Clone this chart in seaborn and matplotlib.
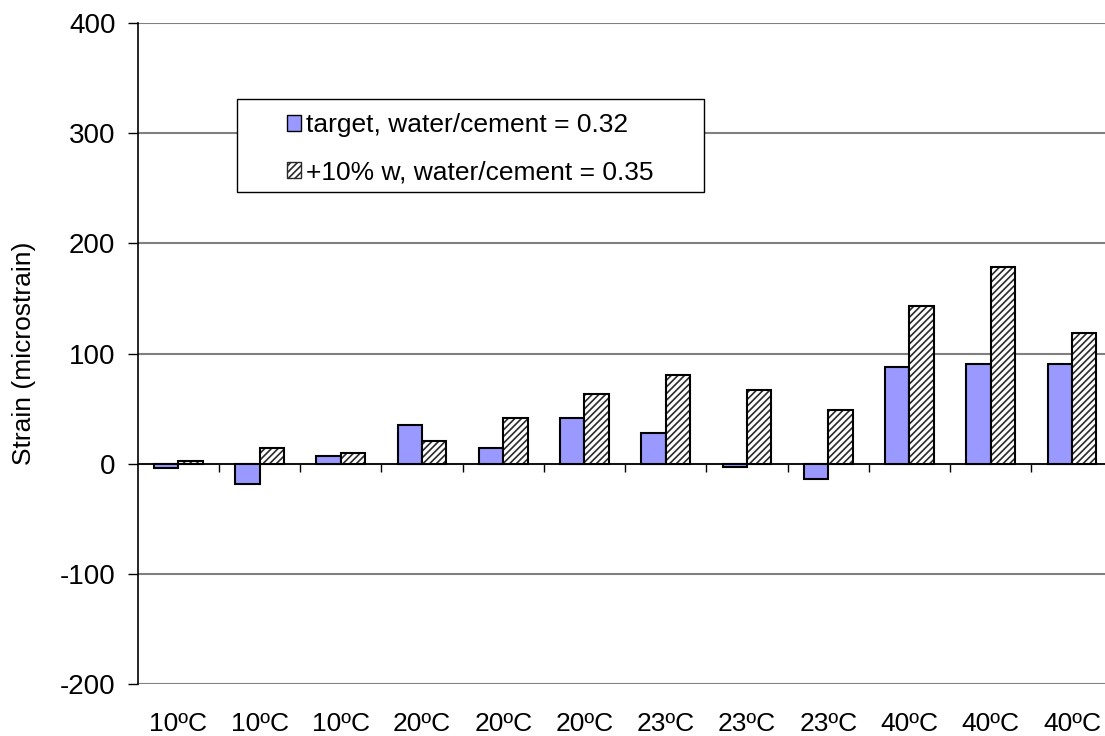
import matplotlib
matplotlib.use("Agg")
import matplotlib.pyplot as plt
from matplotlib.patches import Patch, Rectangle
import seaborn as sns
import pandas as pd

# Curing temperature for each specimen
temperatures = ["10ºC", "10ºC", "10ºC", "20ºC", "20ºC", "20ºC",
                "23ºC", "23ºC", "23ºC", "40ºC", "40ºC", "40ºC"]
# Strain readings (microstrain) for the two mixes
target_wc = [-4, -18, 7, 35, 14, 42, 28, -3, -14, 88, 91, 91]
plus10_wc = [3, 14, 10, 21, 42, 63, 81, 67, 49, 143, 179, 119]
series_names = ["target, water/cement = 0.32", "+10% w, water/cement = 0.35"]
y_ticks = [-200, -100, 0, 100, 200, 300, 400]

specimen = list(range(len(temperatures)))
df = pd.DataFrame({
    "specimen": specimen * 2,
    "strain": target_wc + plus10_wc,
    "mix": [series_names[0]] * len(specimen) + [series_names[1]] * len(specimen),
})

sns.set_theme(style="white")
plt.rcParams["font.family"] = ["Liberation Sans", "DejaVu Sans"]
plt.rcParams["hatch.linewidth"] = 1.2
plt.rcParams["axes.unicode_minus"] = False
for key in ["text.color", "axes.labelcolor", "xtick.color", "ytick.color"]:
    plt.rcParams[key] = "black"

FS = 19
BLUE = "#9999FF"
HATCH_INK = "#2a2a2a"
HATCH = "/////"

fig = plt.figure(figsize=(11.05, 7.36), dpi=100)
ax = fig.add_axes([0.1246, 0.0702, 0.8822, 0.8986])

sns.barplot(data=df, x="specimen", y="strain", hue="mix", hue_order=series_names,
            palette=[BLUE, "white"], saturation=1, width=0.6, gap=0, legend=False,
            errorbar=None, ax=ax, zorder=3)

# solid bars: black outline; hatched bars: diagonal pattern plus separate black outline
solid, hatched = ax.containers[0], ax.containers[1]
for p in solid:
    p.set_edgecolor("black")
    p.set_linewidth(1.5)
for p in hatched:
    p.set_facecolor("white")
    p.set_edgecolor(HATCH_INK)
    p.set_hatch(HATCH)
    p.set_linewidth(0)
    ax.add_patch(Rectangle(p.get_xy(), p.get_width(), p.get_height(),
                           fill=False, edgecolor="black", linewidth=1.5, zorder=4))

ax.set_ylim(-200, 400)
ax.set_xlim(-0.5, len(temperatures) - 0.5)
ax.set_yticks(y_ticks)
ax.yaxis.grid(True, color="#808080", linewidth=1.5, zorder=0)
ax.set_axisbelow(True)

for side in ["top", "right", "bottom"]:
    ax.spines[side].set_visible(False)
ax.spines["left"].set_color("black")
ax.spines["left"].set_linewidth(1.2)
ax.spines["left"].set_zorder(5)

ax.tick_params(axis="y", which="major", direction="out", length=7, width=1,
               color="black", labelsize=20, pad=9, left=True)
ax.set_xticks(specimen)
ax.set_xticklabels(temperatures)
ax.tick_params(axis="x", which="major", length=0, labelsize=FS, pad=20)

# category axis crossing at zero, with tick marks between categories
ax.axhline(0, color="black", linewidth=1.2, zorder=5)
zero_axis = ax.secondary_xaxis(200 / 600)
zero_axis.spines["bottom"].set_visible(False)
zero_axis.set_xticks([i + 0.5 for i in specimen[:-1]])
zero_axis.tick_params(axis="x", direction="out", length=6, width=1, color="black",
                      labelbottom=False)

ax.set_xlabel("")
ax.set_ylabel("Strain (microstrain)", fontsize=FS)
ax.yaxis.set_label_coords(-0.104, 0.5)

# legend entries with a plain rectangular frame around them
handles = [Patch(facecolor=BLUE, edgecolor="black", linewidth=1.0),
           Patch(facecolor="white", edgecolor=HATCH_INK, hatch=HATCH, linewidth=1.0)]
leg = ax.legend(handles, series_names, loc="upper left",
                bbox_to_anchor=(0.1535, 0.864), fontsize=FS, frameon=False,
                handlelength=0.5, handleheight=0.55, handletextpad=0.2,
                borderpad=0, labelspacing=0.9, borderaxespad=0)
leg.set_zorder(10)
ax.add_patch(Rectangle((0.1019, 0.7444), 0.4791, 0.1406, transform=ax.transAxes,
                       facecolor="white", edgecolor="black", linewidth=1.0,
                       zorder=9, clip_on=False))

fig.savefig("out.png", dpi=100)
